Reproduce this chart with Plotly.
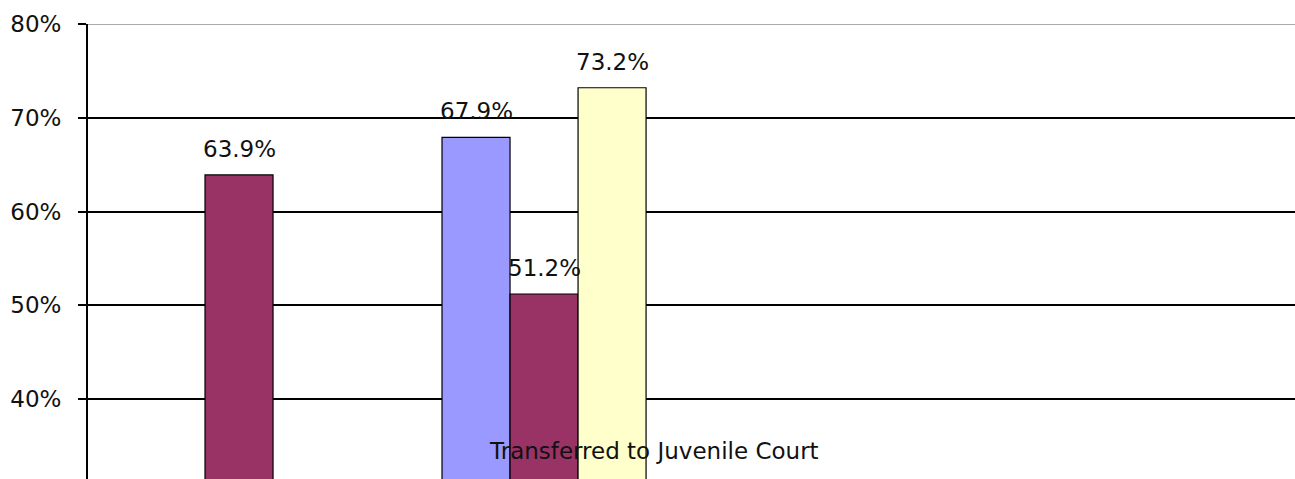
import plotly.graph_objects as go

# Case outcome shares per category (percent)
categories = [0, 1]
series_names = ["Series A", "Series B", "Series C"]
series_blue = [None, 67.9]
series_maroon = [63.9, 51.2]
series_yellow = [None, 73.2]
y_ticks = [40, 50, 60, 70, 80]
category_note = "Transferred to Juvenile Court"

colors = ["#9999FF", "#993366", "#FFFFCC"]
bar_w = 0.223
offsets = [-1.5 * bar_w, -0.5 * bar_w, 0.5 * bar_w]
font_family = "DejaVu Sans"
font_size = 23

fig = go.Figure()
annotations = []
for name, vals, col, off in zip(series_names,
                                [series_blue, series_maroon, series_yellow],
                                colors, offsets):
    fig.add_trace(go.Bar(
        x=categories, y=vals, name=name,
        width=bar_w, offset=off,
        marker=dict(color=col, line=dict(color="#000000", width=1.2)),
    ))
    for cx, v in zip(categories, vals):
        if v is None:
            continue
        annotations.append(dict(
            x=cx + off + bar_w / 2, y=v, xref="x", yref="y",
            text=f"{v:.1f}%", showarrow=False,
            xanchor="center", yanchor="bottom", yshift=11,
            font=dict(family=font_family, size=font_size, color="#111111"),
        ))

annotations.append(dict(
    x=0.469, y=0.0626, xref="paper", yref="paper",
    text=category_note, showarrow=False,
    xanchor="center", yanchor="middle",
    font=dict(family=font_family, size=font_size, color="#111111"),
))

fig.update_layout(
    width=1295, height=479,
    margin=dict(l=88, r=0, t=24, b=0),
    paper_bgcolor="#FFFFFF", plot_bgcolor="#FFFFFF",
    barmode="overlay", showlegend=False,
    annotations=annotations,
    shapes=[dict(type="line", xref="paper", yref="y",
                 x0=0, x1=1, y0=max(y_ticks), y1=max(y_ticks),
                 line=dict(color="#AAAAAA", width=2), layer="above")],
    font=dict(family=font_family, size=font_size, color="#111111"),
)
fig.update_xaxes(
    range=[-0.4951, 3.462], showgrid=False, zeroline=False,
    showticklabels=False, ticks="", showline=False,
)
fig.update_yaxes(
    range=[31.47, 80], tickvals=y_ticks,
    ticktext=[f"{t}%" for t in y_ticks],
    showgrid=True, gridcolor="#000000", gridwidth=1.5,
    zeroline=False, showline=True, linecolor="#000000", linewidth=2,
    ticks="outside", ticklen=8, tickcolor="#000000", tickwidth=1.5,
    ticklabelstandoff=12,
    tickfont=dict(family=font_family, size=font_size, color="#111111"),
)

fig.write_html("out.html")
